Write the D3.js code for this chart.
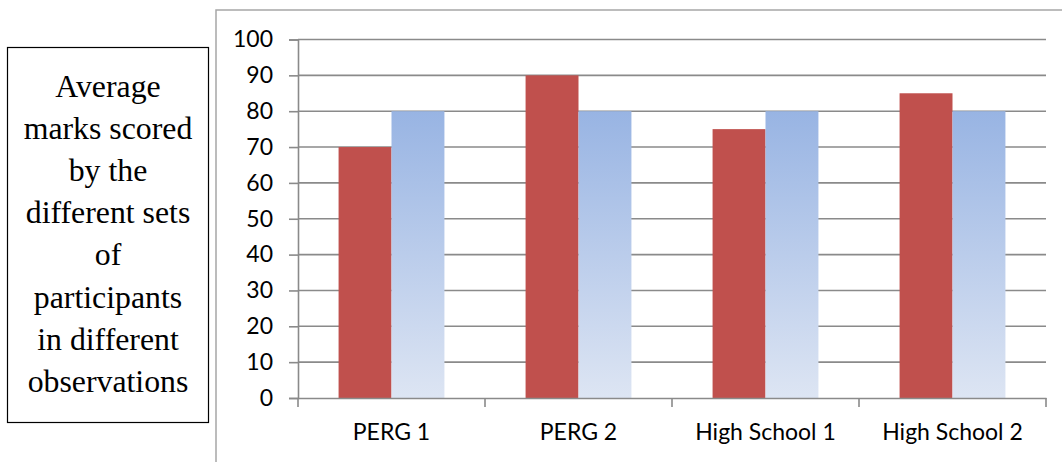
<!DOCTYPE html>
<html>
<head>
<meta charset="utf-8">
<script src="https://cdn.jsdelivr.net/npm/d3@7/dist/d3.min.js"></script>
<style>
  html, body { margin: 0; padding: 0; background: #fff; }
  svg { display: block; }
</style>
</head>
<body>
<svg id="chart" width="1062" height="462"></svg>
<script>
const categories = ["PERG 1", "PERG 2", "High School 1", "High School 2"];
const seriesRed = [70, 90, 75, 85];
const seriesBlue = [80, 80, 80, 80];
const yTicks = [0, 10, 20, 30, 40, 50, 60, 70, 80, 90, 100];
const titleLines = ["Average", "marks scored", "by the", "different sets", "of", "participants", "in different", "observations"];

(function () {
const svg = d3.select("#chart");

const defs = svg.append("defs");
const grad = defs.append("linearGradient").attr("id", "blueGrad")
  .attr("x1", 0).attr("y1", 0).attr("x2", 0).attr("y2", 1);
grad.append("stop").attr("offset", "0%").attr("stop-color", "#98b4e3");
grad.append("stop").attr("offset", "100%").attr("stop-color", "#dde5f3");

// left text box
svg.append("rect").attr("x", 7.5).attr("y", 47.5).attr("width", 201).attr("height", 375)
  .attr("fill", "#fff").attr("stroke", "#000").attr("stroke-width", 1.2);
svg.append("g").selectAll("text").data(titleLines).join("text")
  .attr("x", 108).attr("y", (d, i) => 97 + i * 42.1)
  .attr("text-anchor", "middle")
  .attr("font-family", "'Liberation Serif', 'Times New Roman', serif")
  .attr("font-size", 31.8)
  .attr("fill", "#000")
  .text(d => d);

// chart area border (extends beyond the image)
svg.append("rect").attr("x", 216).attr("y", 10).attr("width", 900).attr("height", 500)
  .attr("fill", "none").attr("stroke", "#a6a6a6").attr("stroke-width", 1.5);

const pLeft = 298, pRight = 1046, pTop = 39.5, pBottom = 398;
const x = d3.scaleBand().domain(categories).range([pLeft, pRight]);
const y = d3.scaleLinear().domain([0, 100]).range([pBottom, pTop]);

// gridlines
svg.append("g").selectAll("line").data(yTicks.filter(d => d > 0)).join("line")
  .attr("x1", pLeft).attr("x2", pRight)
  .attr("y1", d => y(d)).attr("y2", d => y(d))
  .attr("stroke", "#8a8a8a").attr("stroke-width", 1.6);

// bars
const inner = d3.scaleBand().domain(["red", "blue"]).range([0, x.bandwidth()])
  .paddingOuter(0.7666).paddingInner(0);
const bars = svg.append("g");
bars.selectAll("rect.red").data(seriesRed).join("rect").attr("class", "red")
  .attr("x", (d, i) => x(categories[i]) + inner("red"))
  .attr("y", d => y(d)).attr("width", inner.bandwidth()).attr("height", d => y(0) - y(d))
  .attr("fill", "#c0504d");
bars.selectAll("rect.blue").data(seriesBlue).join("rect").attr("class", "blue")
  .attr("x", (d, i) => x(categories[i]) + inner("blue"))
  .attr("y", d => y(d)).attr("width", inner.bandwidth()).attr("height", d => y(0) - y(d))
  .attr("fill", "url(#blueGrad)");

// y axis
const yAxis = svg.append("g").attr("transform", `translate(${pLeft},0)`)
  .call(d3.axisLeft(y).tickValues(yTicks).tickSize(9).tickPadding(16).tickFormat(d3.format("d")));
yAxis.select(".domain").attr("stroke", "#8a8a8a").attr("stroke-width", 1.6);
yAxis.selectAll(".tick line").attr("stroke", "#8a8a8a").attr("stroke-width", 1.6);
yAxis.selectAll("text").attr("font-family", "Lato, 'Open Sans', sans-serif")
  .attr("font-size", 23).attr("fill", "#000");

// x axis
const xAxis = svg.append("g").attr("transform", `translate(0,${pBottom})`)
  .call(d3.axisBottom(x).tickSize(0).tickPadding(26));
xAxis.select(".domain").attr("stroke", "#8a8a8a").attr("stroke-width", 1.6);
xAxis.selectAll("text").attr("font-family", "Lato, 'Open Sans', sans-serif")
  .attr("font-size", 23).attr("fill", "#000");
const bounds = categories.map(c => x(c)).concat([x(categories[categories.length - 1]) + x.bandwidth()]);
svg.append("g").selectAll("line").data(bounds).join("line")
  .attr("x1", d => d).attr("x2", d => d).attr("y1", pBottom).attr("y2", pBottom + 9)
  .attr("stroke", "#8a8a8a").attr("stroke-width", 1.6);
})();
</script>
</body>
</html>
